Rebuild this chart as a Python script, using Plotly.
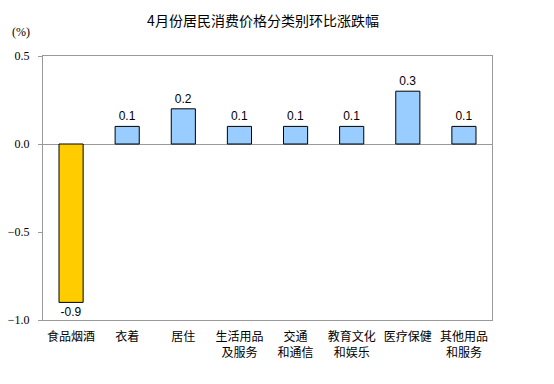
import plotly.graph_objects as go

categories = ["食品烟酒", "衣着", "居住", "生活用品<br>及服务", "交通<br>和通信", "教育文化<br>和娱乐", "医疗保健", "其他用品<br>和服务"]
values = [-0.9, 0.1, 0.2, 0.1, 0.1, 0.1, 0.3, 0.1]
colors = ["#FFCC00" if v < 0 else "#99CCFF" for v in values]
labels = [f"{v:.1f}" for v in values]

fig = go.Figure(go.Bar(
    x=categories, y=values,
    marker=dict(color=colors, line=dict(color="#000000", width=1)),
    width=0.43,
    text=labels, textposition="outside", cliponaxis=False,
    textfont=dict(family="Arial, Liberation Sans", size=12, color="#000"),
))

W, H = 546, 376
fig.update_layout(
    width=W, height=H,
    margin=dict(l=35, r=62, t=48, b=64, autoexpand=False),
    paper_bgcolor="white", plot_bgcolor="white",
    showlegend=False,
    title=dict(text="4月份居民消费价格分类别环比涨跌幅", x=255/W, xanchor="center", y=1 - 13/H, yanchor="middle",
               font=dict(family="Noto Sans CJK SC", size=14, color="#000")),
)
fig.add_annotation(text="(%)", xref="paper", yref="paper", x=-22/449, y=1 + 24/264, xanchor="center", yanchor="middle",
                   showarrow=False, font=dict(family="Liberation Serif", size=12, color="#000"))

fig.update_yaxes(range=[-1, 0.5], dtick=0.5, tickformat=".1f", showgrid=False, automargin=False,
                 zeroline=True, zerolinecolor="#999999", zerolinewidth=1,
                 showline=True, mirror=True, linecolor="#999999", linewidth=1,
                 ticks="outside", ticklen=4, tickcolor="#999999", ticklabelstandoff=6,
                 tickfont=dict(family="Liberation Serif", size=12, color="#000"))
fig.update_xaxes(showgrid=False, showline=True, mirror=True, linecolor="#999999", linewidth=1, automargin=False,
                 ticks="", ticklabelstandoff=6, tickfont=dict(family="Noto Sans CJK SC", size=12, color="#000"))

fig.write_html("out.html")
